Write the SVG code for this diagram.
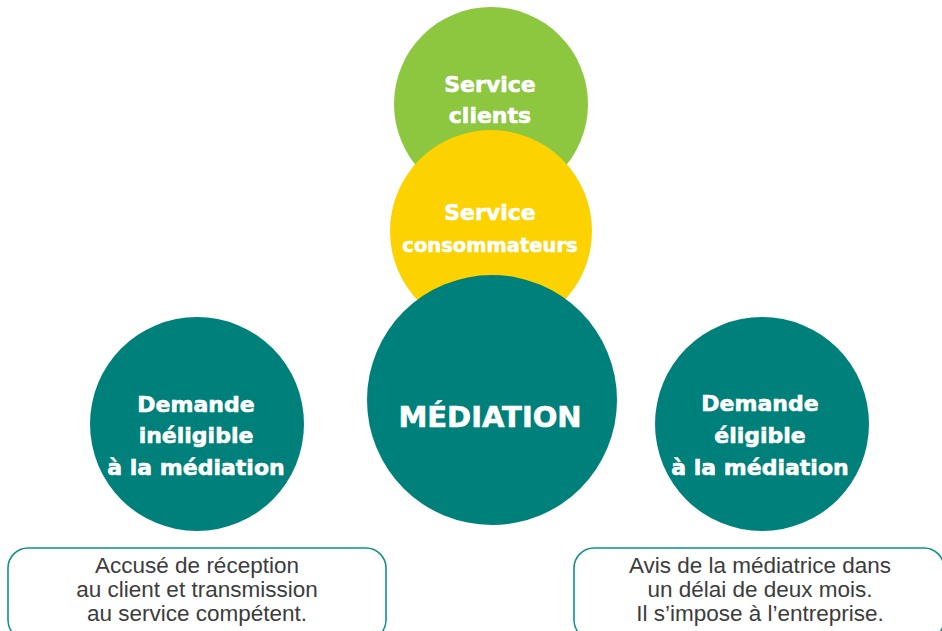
<svg xmlns="http://www.w3.org/2000/svg" width="942" height="631" viewBox="0 0 942 631">
<style>
.c{font-family:"DejaVu Sans","Liberation Sans",sans-serif;font-weight:bold;fill:#fff;stroke:#fff;stroke-width:0.6;text-anchor:middle}
.b{font-family:"Liberation Sans",Arial,sans-serif;fill:#3c3c3c;text-anchor:middle;font-size:22.5px}
.box{fill:#fff;stroke:#11908b;stroke-width:1.6}
.teal{fill:#00807a}
</style>
<rect width="942" height="631" fill="#fff"/>
<g id="service-clients">
<circle cx="491" cy="104" r="97" fill="#8dc63f"/>
<text class="c" x="490" y="92" font-size="22">Service</text>
<text class="c" x="490" y="123" font-size="22">clients</text>
</g>
<g id="service-consommateurs">
<circle cx="491" cy="231" r="101" fill="#fcd200"/>
<text class="c" x="490" y="220" font-size="22">Service</text>
<text class="c" x="490" y="252" font-size="19.5">consommateurs</text>
</g>
<g id="mediation">
<circle class="teal" cx="492" cy="400" r="125"/>
<text class="c" x="490" y="427" font-size="29">MÉDIATION</text>
</g>
<g id="demande-ineligible">
<circle class="teal" cx="197" cy="424" r="107"/>
<text class="c" x="196" y="412" font-size="22">Demande</text>
<text class="c" x="196" y="443" font-size="22">inéligible</text>
<text class="c" x="196" y="475" font-size="22">à la médiation</text>
</g>
<g id="demande-eligible">
<circle class="teal" cx="762" cy="424" r="107"/>
<text class="c" x="760" y="411" font-size="22">Demande</text>
<text class="c" x="760" y="443" font-size="22">éligible</text>
<text class="c" x="760" y="475" font-size="22">à la médiation</text>
</g>
<g id="box-ineligible">
<rect class="box" x="8" y="548" width="378" height="92" rx="20"/>
<text class="b" x="197" y="573">Accusé de réception</text>
<text class="b" x="197" y="597">au client et transmission</text>
<text class="b" x="197" y="621">au service compétent.</text>
</g>
<g id="box-eligible">
<rect class="box" x="574" y="548" width="370" height="92" rx="20"/>
<text class="b" x="760" y="573">Avis de la médiatrice dans</text>
<text class="b" x="760" y="597">un délai de deux mois.</text>
<text class="b" x="760" y="621">Il s’impose à l’entreprise.</text>
</g>
<g id="connectors"/>
</svg>
